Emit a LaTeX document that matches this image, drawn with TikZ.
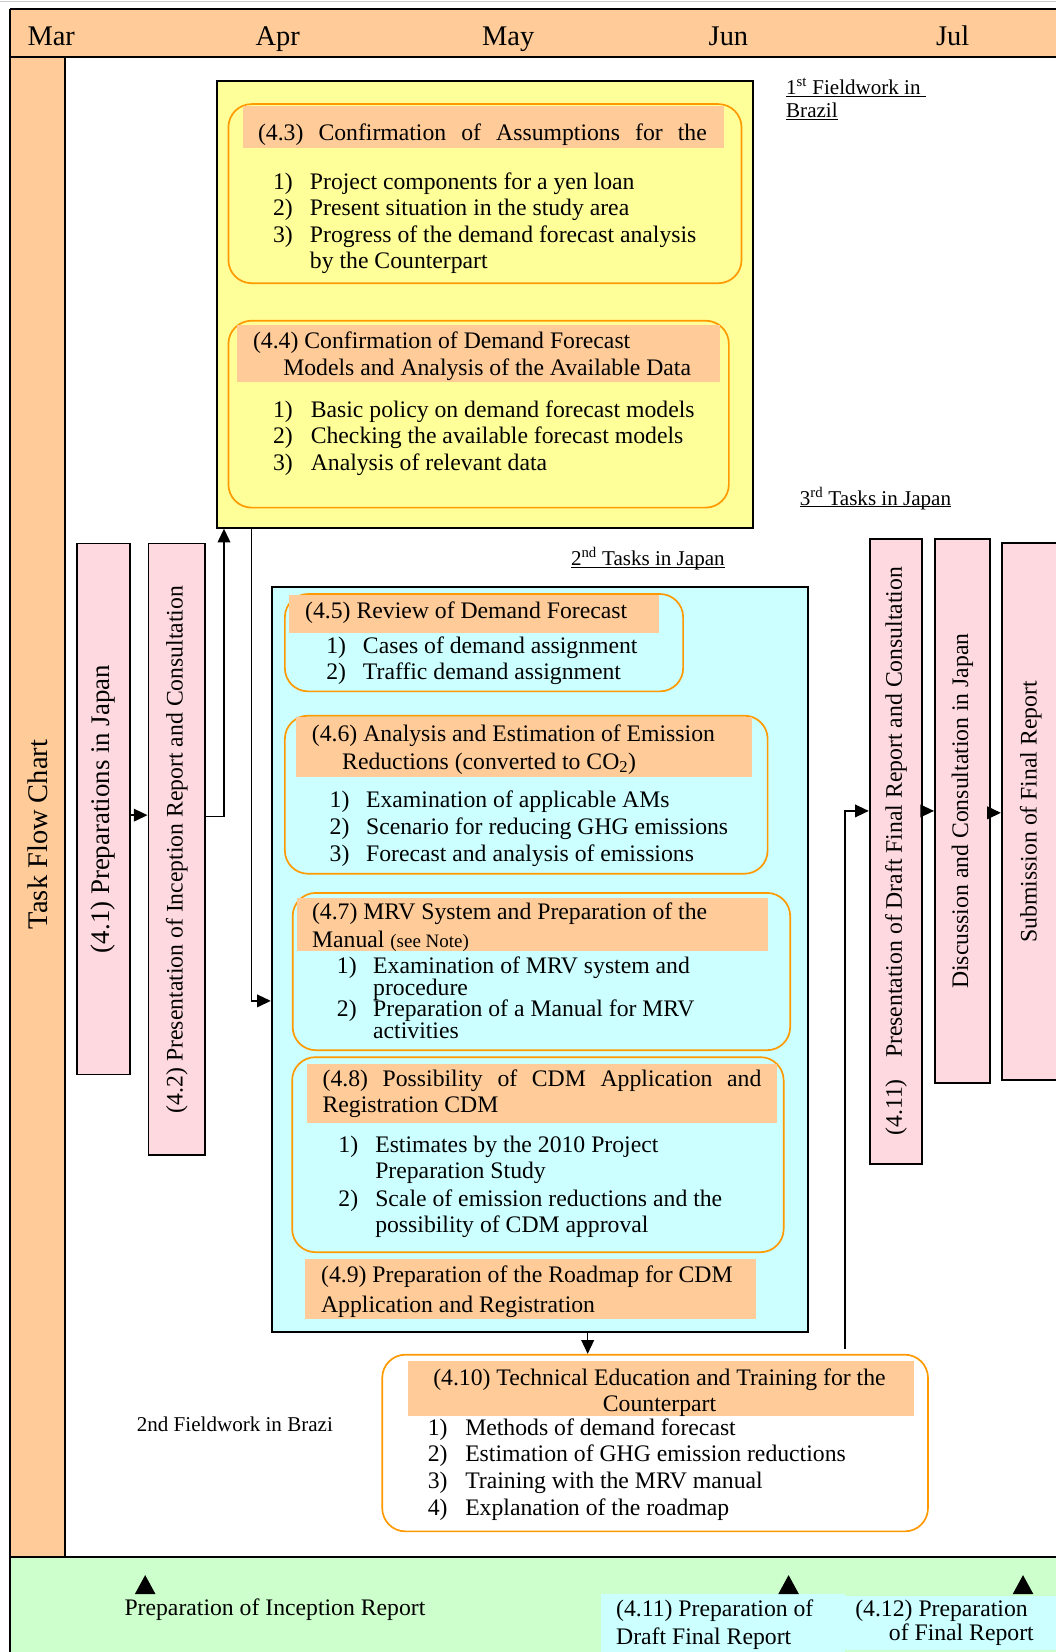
\documentclass[tikz,border=0pt]{standalone}
\usepackage{fontspec}
\setmainfont{Liberation Serif}
\usepackage{graphicx}
\usetikzlibrary{arrows.meta}
\definecolor{peach}{HTML}{FFCC99}
\definecolor{lyellow}{HTML}{FFFF99}
\definecolor{lcyan}{HTML}{CCFFFF}
\definecolor{lgreen}{HTML}{CCFFCC}
\definecolor{ornge}{HTML}{FF9900}
\definecolor{pinkbar}{HTML}{FFD9E0}
\newcommand\ul[1]{\underline{\smash{#1}}}
\newcommand\bx[6]{\node[#1, anchor=north west, minimum width={(#5)-(#3)}, minimum height={(#6)-(#4)}] (#2) at (#3,#4) {};}
\newcommand\barnode[6]{\node[bar, anchor=north west, minimum width={(#4)-(#2)}, minimum height={(#5)-(#3)}] (#1) at (#2,#3) {\rotatebox{90}{#6}};}
\tikzset{
  txt/.style={inner sep=0pt, anchor=base west, font=\fontsize{22.5}{25.5}\selectfont},
  txtc/.style={txt, anchor=base},
  lbl/.style={inner sep=0pt, anchor=base west, font=\fontsize{20}{24}\selectfont},
  month/.style={inner sep=0pt, anchor=base, font=\fontsize{27}{30}\selectfont},
  rbox/.style={draw=ornge, line width=1.6pt, rounded corners=22pt, inner sep=0pt},
  hdr/.style={fill=peach, inner sep=0pt},
  bigbox/.style={draw=black, line width=1.8pt, inner sep=0pt},
  bar/.style={draw=black, line width=1.8pt, fill=pinkbar, inner sep=0pt, font=\fontsize{22.5}{25}\selectfont},
  arr/.style={line width=1.4pt, -{Triangle[length=13pt,width=12pt]}},
  frame/.style={line width=1.8pt, draw=black},
  cybox/.style={fill=lcyan, inner sep=0pt},
}
\begin{document}
\begin{tikzpicture}[x=1pt,y=-1pt]
\useasboundingbox (0,0) rectangle (1002,1568);
\fill[white] (0,0) rectangle (1002,1568);
\draw[gray!40, line width=1pt] (0,1) -- (1002,1);
% frame
\fill[peach] (9.6,8.2) rectangle (1010,54.4);
\fill[peach] (9.6,54.4) rectangle (61.5,1478);
\fill[lgreen] (9.6,1478) rectangle (1010,1575);
\draw[frame] (9.6,8.2) -- (1010,8.2);
\draw[frame] (9.6,54.4) -- (1010,54.4);
\draw[frame] (9.6,1478) -- (1010,1478);
\draw[frame] (9.6,8.2) -- (9.6,1575);
\draw[frame] (61.5,54.4) -- (61.5,1478);
% months
\node[month] (mMar) at (48.6,43) {Mar};
\node[month] (mApr) at (263.6,43) {Apr};
\node[month] (mMay) at (482.4,43) {May};
\node[month] (mJun) at (691.4,43) {Jun};
\node[month] (mJul) at (904.2,43) {Jul};
\node[inner sep=0pt, font=\fontsize{27}{30}\selectfont, rotate=90] (tfc) at (36,792) {Task Flow Chart};

% yellow box
\bx{bigbox, fill=lyellow}{yel}{204.7}{76}{714}{500}
\bx{rbox}{r43}{216}{98}{703}{268}
\bx{hdr}{h43}{230}{100}{687}{140}
\bx{rbox}{r44}{216}{303.6}{691}{481}
\bx{hdr}{h44}{225}{308.5}{683}{362.5}
\node[txt] (h43t) at (244.7,133) {\makebox[426pt][s]{(4.3) Confirmation of Assumptions for the}};
\node[txt] (n43a) at (259,179.4) {1)};
\node[txt] (t43a) at (294,179.4) {Project components for a yen loan};
\node[txt] (n43b) at (259,204.7) {2)};
\node[txt] (t43b) at (294,204.7) {Present situation in the study area};
\node[txt] (n43c) at (259,230) {3)};
\node[txt] (t43c) at (294,230) {Progress of the demand forecast analysis};
\node[txt] (t43d) at (294,255.3) {by the Counterpart};
\node[txt] (h44t) at (240,331) {(4.4) Confirmation of Demand Forecast};
\node[txt] (h44u) at (268.7,356.5) {Models and Analysis of the Available Data};
\node[txt] (n44a) at (259,396) {1)};
\node[txt] (t44a) at (294.8,396) {Basic policy on demand forecast models};
\node[txt] (n44b) at (259,421.3) {2)};
\node[txt] (t44b) at (294.8,421.3) {Checking the available forecast models};
\node[txt] (n44c) at (259,446.6) {3)};
\node[txt] (t44c) at (294.8,446.6) {Analysis of relevant data};

% labels
\node[lbl] (fw1) at (746,90) {\ul{1\textsuperscript{st} Fieldwork in\ }};
\node[lbl] (fw1b) at (746,111.5) {\ul{Brazil}};
\node[lbl] (tj3) at (759,479.5) {\ul{3\textsuperscript{rd} Tasks in Japan}};
\node[lbl] (tj2) at (541.8,537) {\ul{2\textsuperscript{nd} Tasks in Japan}};
\node[lbl] (fw2) at (129.7,1358.5) {2nd Fieldwork in Brazi};

% cyan box
\bx{bigbox, fill=lcyan}{cyn}{257}{556}{766}{1263}
\bx{rbox}{r45}{269.6}{563}{647.6}{655.4}
\bx{hdr}{h45}{273.8}{564.6}{625}{600.8}
\bx{rbox}{r46}{269.6}{678.5}{727.8}{828.5}
\bx{hdr}{h46}{280.6}{680}{713.7}{737}
\bx{rbox}{r47}{277}{846.7}{749.2}{996}
\bx{hdr}{h47}{281.9}{851.8}{729}{902}
\bx{rbox}{r48}{276.5}{1002.6}{743}{1187.7}
\bx{hdr}{h48}{291.2}{1009.6}{737.3}{1066}
\bx{hdr}{h49}{289.5}{1195}{717.4}{1251.8}

\node[txt] (h45t) at (289.5,587.4) {(4.5) Review of Demand Forecast};
\node[txt] (n45a) at (309.5,620) {1)};
\node[txt] (t45a) at (344.3,620) {Cases of demand assignment};
\node[txt] (n45b) at (309.5,645.3) {2)};
\node[txt] (t45b) at (344.3,645.3) {Traffic demand assignment};

\node[txt] (h46t) at (295.9,703.5) {(4.6) Analysis and Estimation of Emission};
\node[txt] (h46u) at (324.6,730.4) {Reductions (converted to CO\textsubscript{2})};
\node[txt] (n46a) at (312.7,766.7) {1)};
\node[txt] (t46a) at (347.3,766.7) {Examination of applicable AMs};
\node[txt] (n46b) at (312.7,792.3) {2)};
\node[txt] (t46b) at (347.3,792.3) {Scenario for reducing GHG emissions};
\node[txt] (n46c) at (312.7,817.3) {3)};
\node[txt] (t46c) at (347.3,817.3) {Forecast and analysis of emissions};

\node[txt] (h47t) at (296,873) {(4.7) MRV System and Preparation of the};
\node[txt] (h47u) at (296,899) {Manual {\fontsize{18}{20}\selectfont(see Note)}};
\node[txt] (n47a) at (319.6,924.2) {1)};
\node[txt] (t47a) at (354,924.2) {Examination of MRV system and};
\node[txt] (t47b) at (354,944.8) {procedure};
\node[txt] (n47b) at (319.6,964.7) {2)};
\node[txt] (t47c) at (354,964.7) {Preparation of a Manual for MRV};
\node[txt] (t47d) at (354,985.3) {activities};

\node[txt] (h48t) at (306,1031) {\makebox[416.5pt][s]{(4.8) Possibility of CDM Application and}};
\node[txt] (h48u) at (306,1056) {Registration CDM};
\node[txt] (n48a) at (321,1093.5) {1)};
\node[txt] (t48a) at (356,1093.5) {Estimates by the 2010 Project};
\node[txt] (t48b) at (356,1118.7) {Preparation Study};
\node[txt] (n48b) at (321,1144.7) {2)};
\node[txt] (t48c) at (356,1144.7) {Scale of emission reductions and the};
\node[txt] (t48d) at (356,1169.4) {possibility of CDM approval};

\node[txt] (h49t) at (304.6,1217.4) {(4.9) Preparation of the Roadmap for CDM};
\node[txt] (h49u) at (304.6,1245.3) {Application and Registration};

% 4.10
\bx{rbox, fill=white}{r410}{362}{1285}{880}{1452.7}
\bx{hdr}{h410}{387.4}{1292}{867}{1344}
\node[txtc] (h410t) at (625.9,1314.8) {(4.10) Technical Education and Training for the};
\node[txtc] (h410u) at (626,1340) {Counterpart};
\node[txt] (n410a) at (405.8,1362.3) {1)};
\node[txt] (t410a) at (441.4,1362.3) {Methods of demand forecast};
\node[txt] (n410b) at (405.8,1387.6) {2)};
\node[txt] (t410b) at (441.4,1387.6) {Estimation of GHG emission reductions};
\node[txt] (n410c) at (405.8,1412.9) {3)};
\node[txt] (t410c) at (441.4,1412.9) {Training with the MRV manual};
\node[txt] (n410d) at (405.8,1438.8) {4)};
\node[txt] (t410d) at (441.4,1438.8) {Explanation of the roadmap};

% bars
\barnode{b41}{72}{515}{122.7}{1019}{\fontsize{25.5}{27}\selectfont(4.1) Preparations in Japan}
\barnode{b42}{140}{515}{193.6}{1095.7}{(4.2) Presentation of Inception Report and Consultation}
\barnode{b411}{824.6}{510.5}{874.5}{1103.5}{(4.11)\hspace{0.9em}Presentation of Draft Final Report and Consultation}
\barnode{bdisc}{886.5}{510.5}{938.5}{1027.3}{Discussion and Consultation in Japan}
\barnode{bsub}{950}{514.8}{1005}{1024.4}{Submission of Final Report}

% connectors
\coordinate (k2) at (212.6,775);
\coordinate (k3) at (238.8,950);
\coordinate (k5s) at (802,1280);
\coordinate (k5) at (802,769.7);
\draw[arr] (b41.east |- 0,773.7) -- (b42.west |- 0,773.7);
\draw[arr] (b42.east |- k2) -- (k2) -- (yel.south -| k2);
\draw[arr] (yel.south -| k3) -- (k3) -- (cyn.west |- k3);
\draw[arr] (cyn.south -| 557.8,0) -- (r410.north -| 557.8,0);
\draw[arr] (k5s) -- (k5) -- (b411.west |- k5);
\draw[arr] (b411.east |- 0,769.7) -- (bdisc.west |- 0,769.7);
\draw[arr] (bdisc.east |- 0,771.5) -- (bsub.west |- 0,771.5);

% bottom band
\bx{cybox}{lb411}{570.6}{1512.5}{802}{1572}
\bx{cybox}{lb412}{802}{1515}{1006}{1566}
\fill (128,1513) -- (137.8,1495) -- (147.6,1513) -- cycle;
\fill (738.7,1513) -- (748.5,1495) -- (758.3,1513) -- cycle;
\fill (961.2,1513) -- (971,1495) -- (980.8,1513) -- cycle;
\node[txt] (bpir) at (118,1533) {Preparation of Inception Report};
\node[txt] (b411a) at (584.6,1534.7) {(4.11) Preparation of};
\node[txt] (b411b) at (584.6,1561) {Draft Final Report};
\node[txt] (b412a) at (811.6,1534.7) {(4.12) Preparation};
\node[txt] (b412b) at (843.5,1556.7) {of Final Report};
\end{tikzpicture}
\end{document}
